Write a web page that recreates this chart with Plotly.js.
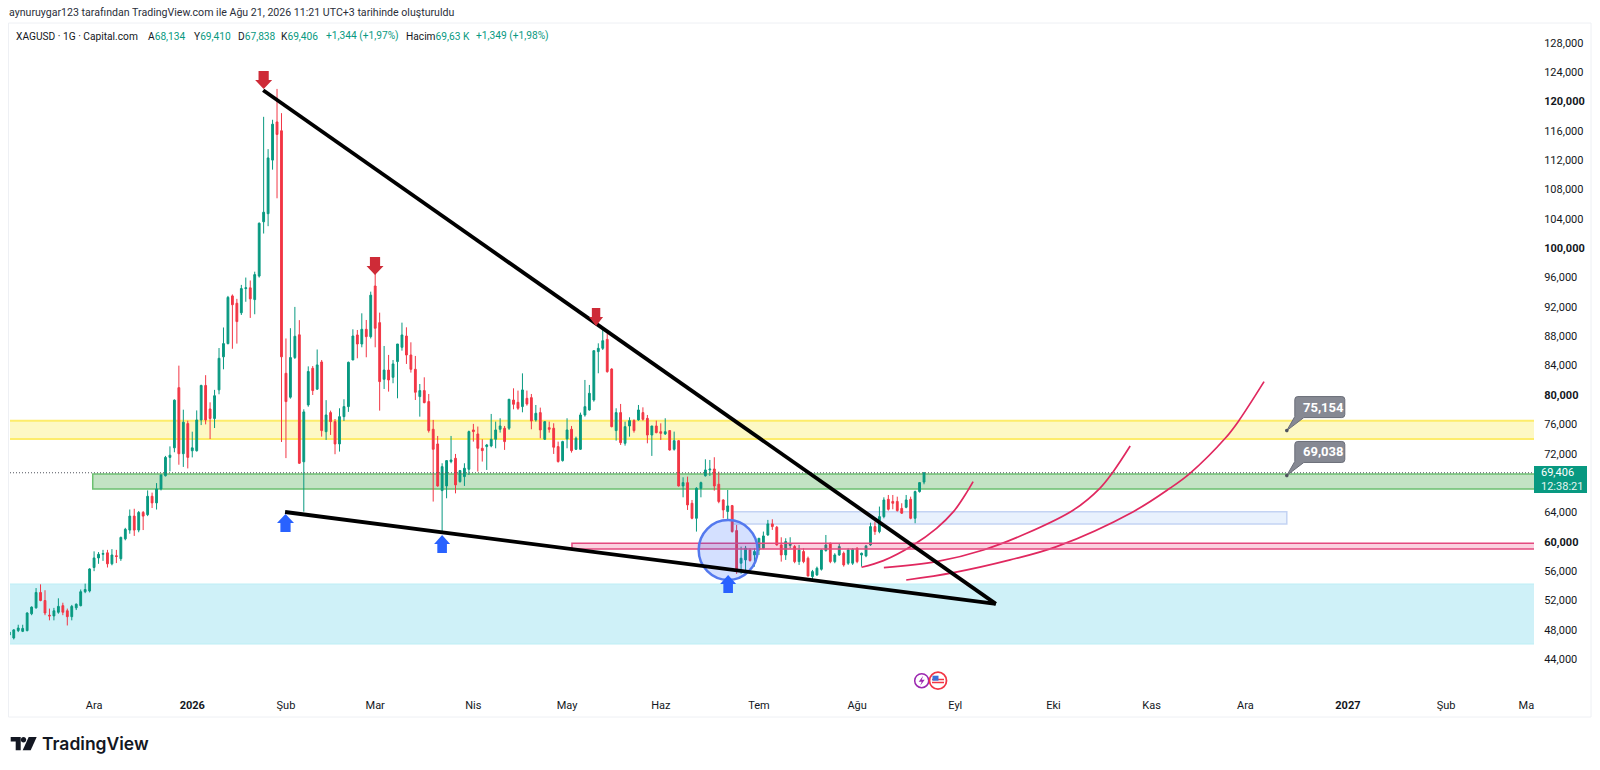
<!DOCTYPE html>
<html><head><meta charset="utf-8">
<script src="https://cdn.plot.ly/plotly-3.0.1.min.js"></script>
<style>html,body{margin:0;padding:0;background:#fff}#c{width:1600px;height:770px}</style>
</head><body><div id="c"></div>
<script>
const opens=[47300,46900,47900,47800,47900,50200,51000,53100,52000,50000,
49900,50400,51300,50600,49800,51000,51300,53200,53300,56500,
57800,58300,58500,57000,58100,57700,60400,61600,63500,61600,
64000,63700,66200,65300,67200,69000,71500,72800,81000,72000,
76100,72400,72400,76600,81300,78100,76800,80700,85200,87000,
93500,92500,91200,94500,94600,93000,96200,103600,104700,112000,
117200,116000,
82957,79700,85100,88200,70900,78650,83640,80800,84500,75000,
77600,76370,73330,77050,78420,84770,88180,86950,88950,87950,
94850,89860,82140,83400,82410,84550,86500,88040,85450,83500,
79780,80600,79100,75330,73330,66975,67610,70930,71380,68200,
68880,69880,75240,74690,72740,72970,73060,73970,75330,75470,
75470,79320,79000,78420,79550,79640,76600,77600,73970,75550,
75470,72970,71060,74010,75330,72600,72600,77280,77960,79320,
85910,86360,87580,83540,75150,77600,73420,75780,76510,76600,
77600,76820,74550,75780,75000,74700,75150,72600,73780,67610,
68060,65250,63200,67290,69000,69790,69920,67840,65700,64120,
64930,61530,57080,57530,58890,58210,58890,59120,60940,62440,
61980,59570,58210,59500,59350,57300,58670,57760,55260,55490,
56260,58800,59800,57300,58210,58440,57080,57080,59120,58210,
58080,59570,62070,61390,63430,65790,65500,65500,64550,64700,
65790,63200,66840,68134];
const highs=[47900,48100,48700,48700,50400,51200,53700,54200,53400,50900,
51000,52300,51700,50900,51400,51600,53500,54300,56400,58700,
58600,58900,58900,59000,58900,60700,61900,64400,64500,64200,
64200,67000,66700,68000,69200,71700,73000,79400,84000,78000,
76500,75000,77900,81400,82700,79000,80700,86400,89200,93500,
93700,93100,95000,96000,95600,96800,103500,117900,113500,117500,
121700,118400,
87700,89100,92000,90200,78050,83900,83950,86200,84770,79300,
77870,76730,78190,79420,84550,88950,88860,91130,90220,94080,
96577,91220,86680,85460,84770,86950,89860,89220,87180,85320,
81500,82410,80140,76600,74420,70700,71060,74420,71970,69790,
70700,75150,76060,75700,73970,73330,77420,76370,76830,75780,
79460,80910,80600,82950,80600,80140,78640,78280,76460,76370,
76150,73650,73760,76830,75780,74330,77600,82050,81370,86040,
87040,88950,88400,83640,78190,78780,76370,76960,76690,78640,
78320,77280,75780,76510,76140,76830,75150,75010,73870,68790,
68880,65700,67430,68200,71240,71150,71520,69560,65790,67060,
65020,62300,59340,59440,59120,59120,60480,61390,62980,63070,
62160,60620,60480,60620,59570,59570,59120,57990,56170,56620,
58980,60930,59890,58440,59800,58670,59120,59120,59260,58530,
59570,62600,62750,64800,66060,66380,66380,66150,65250,66380,
66150,66970,68100,69410];
const lows=[47000,46700,47700,47700,47800,50000,50900,51900,50000,49300,
49300,50200,50000,48600,49300,50700,51200,53000,53100,56000,
57000,57400,56500,56800,57100,57400,60200,61100,60800,61300,
61600,63500,64600,64400,67000,68900,69600,72200,70500,70200,
70000,71500,72300,75900,76000,74000,75500,80100,83500,86900,
86300,87000,90900,92700,90500,91000,96000,102000,103000,110700,
106800,73600,
71400,79500,84900,70600,64100,78400,80000,80700,74330,73880,
74560,71930,72290,76460,77700,84770,85000,86500,85140,87700,
86500,77870,80820,80460,81600,79550,86040,84230,83050,79320,
77050,78870,74880,65480,67500,61250,65930,70700,66600,68060,
67610,69100,73650,69570,70930,69790,72880,72740,74880,72520,
75240,78050,77970,77640,78550,75330,76370,74100,73880,74870,
71970,70790,70930,72740,72150,72510,72510,77050,77870,79090,
82960,86130,83040,75590,73780,73190,73100,74330,74870,76510,
76510,73420,71700,74780,73880,74550,72420,72420,67520,66060,
64340,63070,61390,66060,68880,68970,66970,65250,63200,63000,
61250,55625,55625,55625,57300,56620,58210,58990,60800,61620,
59480,57300,57530,59120,57080,56850,57080,55260,54900,55350,
56080,58660,57080,57080,58080,56620,56850,56850,57080,56620,
57900,59440,60940,61160,63200,64250,64430,64120,63800,64570,
63070,62530,66700,67838];
const closes=[47700,48000,48250,48200,50300,51100,53100,52000,50300,49900,
50600,51200,50400,49800,51200,51500,53200,53500,56300,57800,
58300,58400,57000,58200,58000,60600,61700,63500,61600,64000,
63500,66200,65300,67200,69100,71500,71800,79300,72000,76300,
71500,72800,76600,81300,76600,76800,79900,85000,87000,93300,
92300,90000,94500,94600,93100,96400,103400,104900,112300,116900,
115500,85200,
79100,85100,88000,70700,77700,83200,80600,84100,75150,77280,
76370,73330,77050,78420,84450,88040,86950,88950,87950,93600,
89090,81820,83400,82050,84230,86950,88180,85450,83500,80370,
80600,78960,75150,72600,67610,70240,71060,71150,67750,69700,
70020,75010,75010,72740,72420,73190,73970,75240,75780,73650,
79420,78730,78190,80690,78780,76460,77510,75240,76370,75330,
72880,70930,73650,75240,72420,74100,77280,78410,80230,86040,
86360,87400,83180,75690,77600,73510,75690,76510,75150,77960,
76690,74550,75780,74870,74780,75000,72510,73780,67610,68060,
65020,63200,67290,68060,69790,69900,67610,65480,64340,64890,
61390,55940,57760,59120,57440,58670,60480,60800,62440,62070,
59570,58210,60030,59700,57300,58890,57300,55350,55940,56400,
58890,59570,57300,58210,59350,56850,58890,58980,57300,58440,
59440,62070,61390,63430,65700,64430,65250,64250,63900,65700,
63200,66840,68062,69406];
const barIndex=closes.map((_,i)=>i);

const monthBars=[19,41,62,82,104,125,146,168,190,212,234,256,277,300,322,340];
const monthLabels=["Ara","<b>2026</b>","Şub","Mar","Nis","May","Haz","Tem","Ağu","Eyl","Eki","Kas","Ara","<b>2027</b>","Şub","Ma"];
const priceTicks=[44000,48000,52000,56000,60000,64000,72000,76000,80000,84000,88000,92000,96000,100000,104000,108000,112000,116000,120000,124000,128000];
const priceLabels=["44,000","48,000","52,000","56,000","<b>60,000</b>","64,000","72,000","76,000","<b>80,000</b>","84,000","88,000","92,000","96,000","<b>100,000</b>","104,000","108,000","112,000","116,000","<b>120,000</b>","124,000","128,000"];

const curve1X=[191,195.9,202.6,207.8,211.6,214.2,216];
const curve1Y=[56530,57440,59570,61840,64110,66380,68200];
const curve2X=[196,207.8,218.3,228,238.5,244.4,247.4,251.2];
const curve2Y=[56480,57300,58890,61160,64340,67290,69560,73050];
const curve3X=[201,211.6,224.3,234.7,251.9,260.1,264.6,272.5,275.4,281.2];
const curve3Y=[54800,55800,57530,59340,64110,67290,69330,74100,76370,81820];

const calloutBar=286.3;
const calloutPrices=[75154,69038];
const calloutLabels=["75,154","69,038"];
const lastPrice=69406;

const UP="#089981",DOWN="#f23645";
const W=1600,H=770,mL=10,mR=66,mT=25,mB=77;
const fx=p=>(p-mL)/(W-mL-mR), fy=p=>1-(p-mT)/(H-mT-mB);
const END=341.7, START=0.157, OVER=8;
const FONT="Roboto, sans-serif";

function band(x0,x1,y0,y1,fill,line,lw,layer){return {type:"rect",xref:"x",yref:"y",x0,x1,y0,y1,fillcolor:fill,line:{color:line,width:lw},layer:layer||"below"};}
function seg(x0,y0,x1,y1,c,w,dash){return {type:"line",xref:"x",yref:"y",x0,y0,x1,y1,line:{color:c,width:w,dash:dash||"solid"},layer:"above"};}
function pix(x,y,path,fill,line,lw){return {type:"path",xref:"x",yref:"y",xsizemode:"pixel",ysizemode:"pixel",xanchor:x,yanchor:y,path,fillcolor:fill,line:{color:line||fill,width:lw||0},layer:"above"};}
function pixP(px,py,path,fill,line,lw){return {type:"path",xref:"paper",yref:"paper",xsizemode:"pixel",ysizemode:"pixel",xanchor:fx(px),yanchor:fy(py),path,fillcolor:fill,line:{color:line||fill,width:lw||0},layer:"above"};}
function arrowDown(w){const s=w*0.3;return `M${-s},18 L${s},18 L${s},9 L${w/2},9 L0,0 L${-w/2},9 L${-s},9 Z`;}
function arrowUp(w){const s=w*0.3;return `M${-s},-18 L${s},-18 L${s},-9 L${w/2},-9 L0,0 L${-w/2},-9 L${-s},-9 Z`;}
const bubble=(top)=>`M0,0 L8,${top+1} L8,${top+18} Q8,${top+21} 11,${top+21} L55,${top+21} Q58,${top+21} 58,${top+18} L58,${top+3} Q58,${top} 55,${top} L17,${top} Z`;
const circ=(r,cx=0,cy=0)=>{const k=r*0.5523;return `M${cx-r},${cy} C${cx-r},${cy+k} ${cx-k},${cy+r} ${cx},${cy+r} C${cx+k},${cy+r} ${cx+r},${cy+k} ${cx+r},${cy} C${cx+r},${cy-k} ${cx+k},${cy-r} ${cx},${cy-r} C${cx-k},${cy-r} ${cx-r},${cy-k} ${cx-r},${cy} Z`;};

const shapes=[
 band(START-OVER,END+OVER,46076,54250,"#cff1f8","#bdeef5",1),
 band(START-OVER,END+OVER,74000,76500,"#fdf8c4","#fdec6a",2),
 band(18.7,END+OVER,67190,69240,"#c3e3c4","#6cc070",1.5),
 band(162.2,286.3,62425,64100,"#e8f1fd","#c3d3f3",1.5),
 band(126.1,END+OVER,59020,59800,"rgba(233,30,99,0.2)","#e4497f",1.5,"above"),
 seg(START,lastPrice,END,lastPrice,"#50535e",1,"1px,2px"),
 {type:"circle",xref:"x",yref:"y",x0:154.5,x1:167.7,y0:54796,y1:62970,fillcolor:"rgba(41,98,255,0.2)",line:{color:"#5479ee",width:2.5},layer:"above"},
 seg(56.9,121512,221.1,51535,"#000",3.8),
 seg(61.8,64060,221.1,51535,"#000",3.8),
 pix(57,121690,arrowDown(17),"#ce2b37"),
 pix(81.96,96350,arrowDown(17),"#ce2b37"),
 pix(131.5,89400,arrowDown(14),"#ce2b37"),
 pix(61.9,63790,arrowUp(17),"#2962ff"),
 pix(97,60926,arrowUp(16),"#2962ff"),
 pix(161.1,55480,arrowUp(16),"#2962ff"),
 pix(calloutBar,calloutPrices[0],bubble(13),"#868993","#6a6d78",1),
 pix(calloutBar,calloutPrices[1],bubble(13),"#868993","#6a6d78",1),
 pix(calloutBar,calloutPrices[0],circ(1.8),"#50535e"),
 pix(calloutBar,calloutPrices[1],circ(1.8),"#50535e"),
 /* frame */
 {type:"rect",xref:"paper",yref:"paper",x0:fx(8.5),x1:fx(1591),y0:fy(717),y1:fy(23),fillcolor:"rgba(0,0,0,0)",line:{color:"#eef0f4",width:1},layer:"below"},
 /* last price tag */
 {type:"rect",xref:"paper",yref:"paper",x0:fx(1534),x1:fx(1587),y0:fy(493),y1:fy(466),fillcolor:UP,line:{width:0},layer:"above"},
 /* event icons */
 pixP(921.7,680.7,circ(7),"#ffffff","#9c27b0",1.5),
 pixP(921.7,680.7,"M1.5,5 L-3,-1 L0,-1 L-1.5,-5 L3,1 L0,1 Z","#9c27b0"),
 pixP(938,680.7,circ(8.5),"#ffffff","#f23645",1.8),
 pixP(938,680.7,"M-6,2 L6,2 L6,0.5 L-6,0.5 Z M-6,-1 L6,-1 L6,-2.5 L-6,-2.5 Z","#f23645"),
 pixP(938,680.7,"M-5.5,5 L0.5,5 L0.5,0 L-5.5,0 Z","#3c6fd8"),
 /* logo */
 pixP(10.7,737,"M0,0 L10,0 L10,-13.3 L5,-13.3 L5,-4.4 L0,-4.4 Z","#131722"),
 pixP(23.5,739.7,circ(2.7),"#131722"),
 pixP(10.7,737,"M18,0 L26,0 L20,-13.3 L12,-13.3 Z","#131722")
];

function txt(px,py,text,size,color,extra){return Object.assign({xref:"paper",yref:"paper",x:fx(px),y:fy(py),xanchor:"left",yanchor:"middle",showarrow:false,text,font:{family:FONT,size,color}},extra||{});}
const LEG="#131722", LS=10.2;
const annotations=[
 txt(7,12.5,"aynuruygar123 tarafından TradingView.com ile Ağu 21, 2026 11:21 UTC+3 tarihinde oluşturuldu",10.6,"#2a2e39"),
 txt(14,36,"XAGUSD · 1G · Capital.com",LS,LEG),
 txt(146,36,`A<span style="color:${UP}">68,134</span>`,LS,LEG),
 txt(192,36,`Y<span style="color:${UP}">69,410</span>`,LS,LEG),
 txt(235.5,36,`D<span style="color:${UP}">67,838</span>`,LS,LEG),
 txt(279,36,`K<span style="color:${UP}">69,406</span>`,LS,LEG),
 txt(324,36,"+1,344 (+1,97%)",LS,UP),
 txt(404,36,`Hacim<span style="color:${UP}">69,63 K</span>`,LS,LEG),
 txt(474,36,"+1,349 (+1,98%)",LS,UP),
 txt(1539,479.5,`69,406<br><span style="color:#e4f5f1">12:38:21</span>`,11,"#ffffff",{align:"left"}),
 txt(40,743.5,"TradingView",17.5,"#131722",{font:{family:"Inter, sans-serif",size:17.5,color:"#131722",weight:600}}),
 ...calloutPrices.map((p,k)=>({xref:"x",yref:"y",x:calloutBar,y:p,xshift:37,yshift:23.5,showarrow:false,xanchor:"center",yanchor:"middle",text:`<b>${calloutLabels[k]}</b>`,font:{family:FONT,size:13,color:"#fff"}}))
];

const traces=[
 {type:"candlestick",x:barIndex,open:opens,high:highs,low:lows,close:closes,
  increasing:{line:{color:UP,width:1},fillcolor:UP},decreasing:{line:{color:DOWN,width:1},fillcolor:DOWN},
  whiskerwidth:0,hoverinfo:"skip",showlegend:false},
 {type:"scatter",mode:"lines",x:curve1X,y:curve1Y,line:{color:"#e0285f",width:1.7,shape:"spline"},hoverinfo:"skip",showlegend:false},
 {type:"scatter",mode:"lines",x:curve2X,y:curve2Y,line:{color:"#e0285f",width:1.7,shape:"spline"},hoverinfo:"skip",showlegend:false},
 {type:"scatter",mode:"lines",x:curve3X,y:curve3Y,line:{color:"#e0285f",width:1.7,shape:"spline"},hoverinfo:"skip",showlegend:false}
];

const layout={
 width:W,height:H,margin:{l:mL,r:mR,t:mT,b:mB,pad:0},paper_bgcolor:"#fff",plot_bgcolor:"#fff",
 showlegend:false,boxgap:0.42,font:{family:FONT,size:11,color:"#131722"},
 xaxis:{type:"linear",range:[START,END],rangeslider:{visible:false},showgrid:false,zeroline:false,showline:false,
  tickmode:"array",tickvals:monthBars,ticktext:monthLabels,ticks:"outside",ticklen:2,tickcolor:"rgba(0,0,0,0)",tickfont:{family:FONT,size:11,color:"#131722"},fixedrange:true},
 yaxis:{type:"linear",side:"right",range:[39400,130409],showgrid:false,zeroline:false,showline:false,
  tickmode:"array",tickvals:priceTicks,ticktext:priceLabels,ticks:"outside",ticklen:7,tickcolor:"rgba(0,0,0,0)",tickfont:{family:FONT,size:11,color:"#131722"},fixedrange:true},
 shapes,annotations
};
Plotly.newPlot("c",traces,layout,{staticPlot:true,displayModeBar:false});
</script></body></html>
